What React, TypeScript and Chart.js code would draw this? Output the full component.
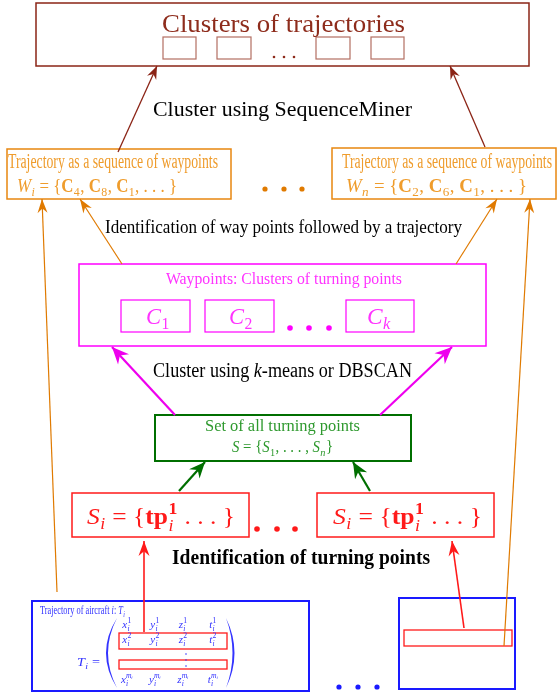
import React, { useEffect, useRef } from 'react';
import { Chart, registerables } from 'chart.js';

Chart.register(...registerables);

const W = 557;
const H = 696;
const SERIF = '"Liberation Serif", "DejaVu Serif", serif';

const BROWN = '#8b2416';
const BROWN_T = '#8e2c1c';
const BROWN_L = '#b36e62';
const ORANGE = '#e8860f';
const ORANGE_T = '#ef9c2c';
const ORANGE_A = '#e07a00';
const MAGENTA = '#ff00ff';
const MAG_T = '#ff33ff';
const MAG_A = '#ee00ee';
const GREEN = '#006f00';
const GREEN_T = '#2e992e';
const RED = '#ff1a1a';
const BLUE = '#1a1aff';
const BLUE_T = '#3333ff';

// ---- boxes: [x1, y1, x2, y2, color, lineWidth]
const outerBoxes = [
  [36, 3, 529, 66, BROWN, 1.5],
  [7, 149, 231, 199, ORANGE, 1.5],
  [332, 148, 556, 199, ORANGE, 1.5],
  [79, 264, 486, 346, MAGENTA, 1.5],
  [155, 415, 411, 461, GREEN, 2],
  [72, 493, 249, 537, RED, 1.5],
  [317, 493, 494, 537, RED, 1.5],
  [32, 601, 309, 691, BLUE, 2],
  [399, 598, 515, 689, BLUE, 2],
];
const innerBoxes = [
  [163, 37, 196, 59, BROWN_L, 1.2],
  [217, 37, 251, 59, BROWN_L, 1.2],
  [316, 37, 350, 59, BROWN_L, 1.2],
  [371, 37, 404, 59, BROWN_L, 1.2],
  [121, 300, 190, 332, MAGENTA, 1.2],
  [205, 300, 274, 332, MAGENTA, 1.2],
  [346, 300, 414, 332, MAGENTA, 1.2],
  [119, 633, 227, 649, RED, 1.3],
  [119, 660, 227, 669, RED, 1.3],
  [404, 630, 512, 646, RED, 1.3],
];

// ---- arrows: from -> to (tip)
const arrows = [
  { from: [118, 152], to: [157, 66], color: BROWN, w: 1.3, len: 13, hw: 10 },
  { from: [485, 147], to: [450, 66], color: BROWN, w: 1.3, len: 13, hw: 10 },
  { from: [57, 592], to: [42, 199], color: ORANGE_A, w: 1.2, len: 14, hw: 10 },
  { from: [122, 264], to: [80, 199], color: ORANGE_A, w: 1.2, len: 14, hw: 10 },
  { from: [456, 264], to: [497, 199], color: ORANGE_A, w: 1.2, len: 14, hw: 10 },
  { from: [504, 646], to: [530, 199], color: ORANGE_A, w: 1.2, len: 14, hw: 10 },
  { from: [175, 415], to: [112, 347], color: MAG_A, w: 2.2, len: 17, hw: 15 },
  { from: [380, 415], to: [452, 347], color: MAG_A, w: 2.2, len: 17, hw: 15 },
  { from: [179, 491], to: [205, 462], color: GREEN, w: 2.2, len: 16, hw: 14 },
  { from: [370, 491], to: [353, 462], color: GREEN, w: 2.2, len: 16, hw: 14 },
  { from: [144, 632], to: [144, 541], color: RED, w: 1.6, len: 15, hw: 11 },
  { from: [464, 628], to: [452, 541], color: RED, w: 1.6, len: 15, hw: 11 },
];

// ---- ellipsis dots
const dotGroups = [
  { pts: [[274, 57], [284, 57], [294, 57]], color: BROWN_T, r: 1.3 },
  { pts: [[265, 189], [284, 189], [302, 189]], color: ORANGE_A, r: 2.6 },
  { pts: [[290, 328], [309, 328], [329, 328]], color: MAGENTA, r: 2.8 },
  { pts: [[257, 529], [277, 529], [295, 529]], color: RED, r: 2.8 },
  { pts: [[339, 687], [358, 687], [377, 687]], color: BLUE, r: 2.6 },
  { pts: [[186, 654], [186, 660], [186, 666]], color: BLUE_T, r: 0.8 },
];

// ---- texts: segments, x-left, x-right, baseline, size, color
const S = (t: string, f?: string, sub?: string, sup?: string, sbf?: string, spf?: string) => ({ t, f, sub, sup, sbf, spf });

const texts = [
  { segs: [S('Clusters of trajectories')], x1: 162, x2: 405, y: 32, size: 25, color: BROWN_T },
  { segs: [S('Cluster using SequenceMiner')], x1: 153, x2: 412, y: 116, size: 20, color: '#000' },
  { segs: [S('Trajectory as a sequence of waypoints')], x1: 8, x2: 218, y: 168, size: 20, color: ORANGE_T },
  { segs: [S('W', 'italic', 'i', undefined, 'italic'), S(' = {'), S('C', 'bold', '4'), S(', '), S('C', 'bold', '8'), S(', '), S('C', 'bold', '1'), S(', . . . }')], x1: 17, x2: 177, y: 192, size: 19, color: ORANGE_T },
  { segs: [S('Trajectory as a sequence of waypoints')], x1: 342, x2: 552, y: 168, size: 20, color: ORANGE_T },
  { segs: [S('W', 'italic', 'n', undefined, 'italic'), S(' = {'), S('C', 'bold', '2'), S(', '), S('C', 'bold', '6'), S(', '), S('C', 'bold', '1'), S(', . . . }')], x1: 346, x2: 527, y: 192, size: 19, color: ORANGE_T },
  { segs: [S('Identification of way points followed by a trajectory')], x1: 105, x2: 462, y: 233, size: 18, color: '#000' },
  { segs: [S('Waypoints: Clusters of turning points')], x1: 166, x2: 402, y: 284, size: 17, color: MAG_T },
  { segs: [S('C', 'italic', '1')], x1: 146, x2: 170, y: 324, size: 24, color: MAG_T },
  { segs: [S('C', 'italic', '2')], x1: 229, x2: 253, y: 324, size: 24, color: MAG_T },
  { segs: [S('C', 'italic', 'k', undefined, 'italic')], x1: 367, x2: 391, y: 324, size: 24, color: MAG_T },
  { segs: [S('Cluster using '), S('k', 'italic'), S('-means or DBSCAN')], x1: 153, x2: 412, y: 377, size: 20, color: '#000' },
  { segs: [S('Set of all turning points')], x1: 205, x2: 360, y: 431, size: 16, color: GREEN_T },
  { segs: [S('S', 'italic'), S(' = {'), S('S', 'italic', '1'), S(', . . . , '), S('S', 'italic', 'n', undefined, 'italic'), S('}')], x1: 232, x2: 333, y: 452, size: 16, color: GREEN_T },
  { segs: [S('S', 'italic', 'i', undefined, 'italic'), S(' = {'), S('tp', 'bold', 'i', '1', 'italic', 'bold'), S(' . . . }')], x1: 87, x2: 235, y: 524, size: 24, color: RED },
  { segs: [S('S', 'italic', 'i', undefined, 'italic'), S(' = {'), S('tp', 'bold', 'i', '1', 'italic', 'bold'), S(' . . . }')], x1: 333, x2: 482, y: 524, size: 24, color: RED },
  { segs: [S('Identification of turning points', 'bold')], x1: 172, x2: 430, y: 564, size: 20, color: '#000' },
  { segs: [S('Trajectory of aircraft '), S('i', 'italic'), S(': '), S('T', 'italic', 'i', undefined, 'italic')], x1: 40, x2: 125, y: 614, size: 13, color: BLUE_T },
  { segs: [S('T', 'italic', 'i', undefined, 'italic'), S(' =')], x1: 77, x2: 100, y: 666, size: 13, color: BLUE_T },
];

// ---- matrix of the trajectory
const matrixVars = ['x', 'y', 'z', 't'];
const matrixRowSup = ['1', '2', 'm\u1D62'];
const matrixColX = [127, 155, 183, 213];
const matrixRowY = [628, 643, 683];

function fontStr(f: string | undefined, size: number) {
  return `${f ? f + ' ' : ''}${size}px ${SERIF}`;
}

function segMetrics(ctx: CanvasRenderingContext2D, s: any, size: number) {
  ctx.font = fontStr(s.f, size);
  const w = ctx.measureText(s.t).width;
  let ws = 0;
  if (s.sub) {
    ctx.font = fontStr(s.sbf, size * 0.7);
    ws = Math.max(ws, ctx.measureText(s.sub).width);
  }
  if (s.sup) {
    ctx.font = fontStr(s.spf, size * 0.7);
    ws = Math.max(ws, ctx.measureText(s.sup).width);
  }
  return { w, ws, total: w + ws + (ws ? size * 0.05 : 0) };
}

function drawSegs(ctx: CanvasRenderingContext2D, segs: any[], size: number) {
  let cx = 0;
  for (const s of segs) {
    const m = segMetrics(ctx, s, size);
    ctx.font = fontStr(s.f, size);
    ctx.fillText(s.t, cx, 0);
    cx += m.w + (m.ws ? size * 0.02 : 0);
    const both = s.sub && s.sup;
    if (s.sup) {
      ctx.font = fontStr(s.spf, size * 0.7);
      ctx.fillText(s.sup, cx, -size * (both ? 0.42 : 0.4));
    }
    if (s.sub) {
      ctx.font = fontStr(s.sbf, size * 0.7);
      ctx.fillText(s.sub, cx, size * (both ? 0.3 : 0.22));
    }
    cx += m.total - m.w - (m.ws ? size * 0.02 : 0);
  }
}

function richWidth(ctx: CanvasRenderingContext2D, segs: any[], size: number) {
  let t = 0;
  for (const s of segs) t += segMetrics(ctx, s, size).total;
  return t;
}

const diagramPlugin = {
  id: 'diagram',
  beforeDatasetsDraw(chart: any) {
    const ctx: CanvasRenderingContext2D = chart.ctx;
    const xs = chart.scales.x;
    const ys = chart.scales.y;
    const px = (v: number) => xs.getPixelForValue(v);
    const py = (v: number) => ys.getPixelForValue(v);
    ctx.save();
    for (const b of [...outerBoxes, ...innerBoxes]) {
      const [x1, y1, x2, y2, c, lw] = b as any;
      ctx.strokeStyle = c;
      ctx.lineWidth = lw;
      ctx.strokeRect(px(x1), py(y1), px(x2) - px(x1), py(y2) - py(y1));
    }
    ctx.textBaseline = 'alphabetic';
    ctx.textAlign = 'left';
    for (const t of texts) {
      const nat = richWidth(ctx, t.segs, t.size);
      const a = px(t.x1);
      const b = px(t.x2);
      ctx.save();
      ctx.fillStyle = t.color;
      ctx.translate(a, py(t.y));
      ctx.scale((b - a) / nat, 1);
      drawSegs(ctx, t.segs, t.size);
      ctx.restore();
    }
    // matrix entries
    ctx.fillStyle = BLUE_T;
    matrixRowY.forEach((ry, ri) => {
      matrixVars.forEach((v, ci) => {
        const segs = [S(v, 'italic', 'i', matrixRowSup[ri], 'italic', ri === 2 ? 'italic' : undefined)];
        const w = richWidth(ctx, segs, 11);
        ctx.save();
        ctx.translate(px(matrixColX[ci]) - w / 2, py(ry));
        drawSegs(ctx, segs, 11);
        ctx.restore();
      });
    });
    // matrix parentheses
    ctx.fillStyle = BLUE_T;
    ctx.beginPath();
    ctx.moveTo(px(117), py(618));
    ctx.quadraticCurveTo(px(95), py(653), px(117), py(688));
    ctx.quadraticCurveTo(px(99), py(653), px(117), py(618));
    ctx.fill();
    ctx.beginPath();
    ctx.moveTo(px(226), py(618));
    ctx.quadraticCurveTo(px(243), py(653), px(226), py(688));
    ctx.quadraticCurveTo(px(239), py(653), px(226), py(618));
    ctx.fill();
    ctx.restore();
  },
  afterDatasetsDraw(chart: any) {
    const ctx: CanvasRenderingContext2D = chart.ctx;
    chart.data.datasets.forEach((ds: any, i: number) => {
      if (!ds.arrowHead) return;
      const meta = chart.getDatasetMeta(i);
      const a = meta.data[0];
      const b = meta.data[1];
      const ang = Math.atan2(b.y - a.y, b.x - a.x);
      const { len, hw, color } = ds.arrowHead;
      const dx = Math.cos(ang);
      const dy = Math.sin(ang);
      const nx = -dy;
      const ny = dx;
      ctx.save();
      ctx.fillStyle = color;
      ctx.beginPath();
      ctx.moveTo(b.x, b.y);
      ctx.lineTo(b.x - dx * len + nx * hw / 2, b.y - dy * len + ny * hw / 2);
      ctx.lineTo(b.x - dx * len * 0.68, b.y - dy * len * 0.68);
      ctx.lineTo(b.x - dx * len - nx * hw / 2, b.y - dy * len - ny * hw / 2);
      ctx.closePath();
      ctx.fill();
      ctx.restore();
    });
  },
};

export default function App() {
  const ref = useRef<HTMLCanvasElement | null>(null);
  useEffect(() => {
    if (!ref.current) return;
    const datasets: any[] = [];
    for (const a of arrows) {
      datasets.push({
        data: [{ x: a.from[0], y: a.from[1] }, { x: a.to[0], y: a.to[1] }],
        showLine: true,
        borderColor: a.color,
        borderWidth: a.w,
        pointRadius: 0,
        fill: false,
        tension: 0,
        clip: false,
        arrowHead: { len: a.len, hw: a.hw, color: a.color },
      });
    }
    for (const g of dotGroups) {
      datasets.push({
        data: g.pts.map((p) => ({ x: p[0], y: p[1] })),
        showLine: false,
        pointRadius: g.r,
        pointBackgroundColor: g.color,
        pointBorderWidth: 0,
        pointBorderColor: g.color,
        clip: false,
      });
    }
    const chart = new Chart(ref.current, {
      type: 'scatter',
      data: { datasets },
      options: {
        animation: false,
        responsive: false,
        maintainAspectRatio: false,
        events: [],
        layout: { padding: 0, autoPadding: false },
        plugins: { legend: { display: false }, tooltip: { enabled: false } },
        scales: {
          x: { type: 'linear', min: 0, max: W, display: false },
          y: { type: 'linear', min: 0, max: H, reverse: true, display: false },
        },
      } as any,
      plugins: [diagramPlugin as any],
    });
    return () => chart.destroy();
  }, []);
  return (
    <div style={{ position: 'absolute', left: 0, top: 0, width: W, height: H, background: '#fff' }}>
      <canvas ref={ref} width={W} height={H} style={{ display: 'block' }} />
    </div>
  );
}
